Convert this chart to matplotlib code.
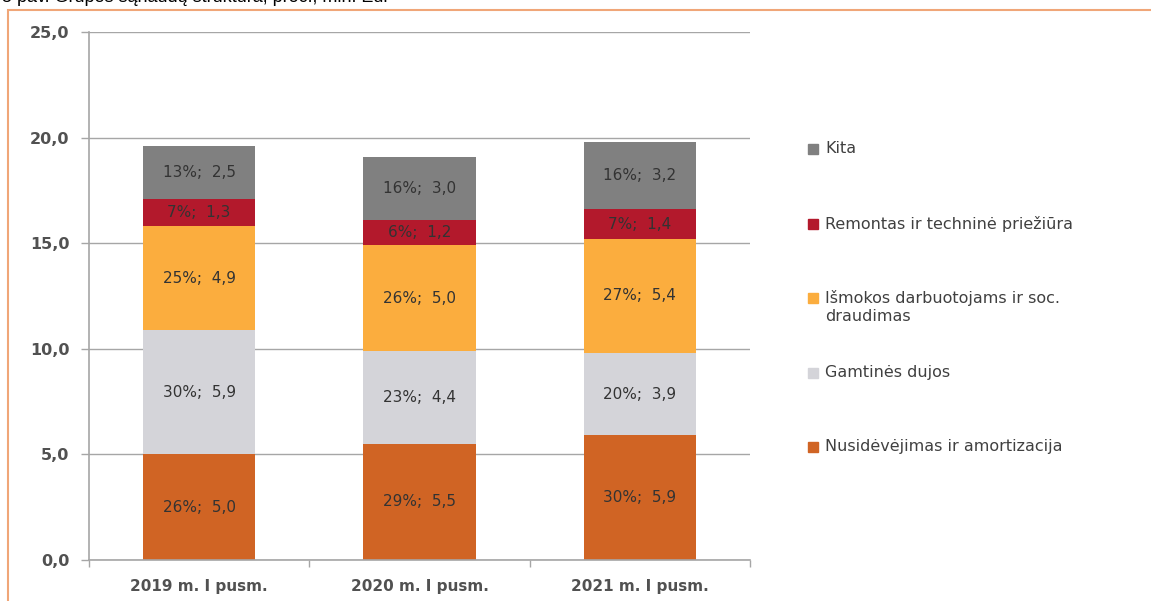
import matplotlib
matplotlib.use('Agg')
import matplotlib.pyplot as plt
import numpy as np
from matplotlib.patches import Rectangle
from matplotlib.ticker import FuncFormatter, FixedLocator

# Data (mln. Eur) - bottom to top
categories = ['2019 m. I pusm.', '2020 m. I pusm.', '2021 m. I pusm.']
series_names = ['Nusidėvėjimas ir amortizacija', 'Gamtinės dujos',
                'Išmokos darbuotojams ir soc.\ndraudimas',
                'Remontas ir techninė priežiūra', 'Kita']
nusidevejimas = [5.0, 5.5, 5.9]
dujos = [5.9, 4.4, 3.9]
ismokos = [4.9, 5.0, 5.4]
remontas = [1.3, 1.2, 1.4]
kita = [2.5, 3.0, 3.2]

pct_nusidevejimas = [26, 29, 30]
pct_dujos = [30, 23, 20]
pct_ismokos = [25, 26, 27]
pct_remontas = [7, 6, 7]
pct_kita = [13, 16, 16]

colors = ['#D06424', '#D4D4D9', '#FBAD3E', '#B3192C', '#808080']
text_color = '#333333'

values = [nusidevejimas, dujos, ismokos, remontas, kita]
pcts = [pct_nusidevejimas, pct_dujos, pct_ismokos, pct_remontas, pct_kita]

fig = plt.figure(figsize=(11.51, 6.01), dpi=100)
ax = fig.add_axes([89 / 1151, 1 - 560 / 601, (750 - 89) / 1151, (560 - 32) / 601])

x = np.arange(len(categories))
bottom = np.zeros(len(categories))
for vals, pc, col in zip(values, pcts, colors):
    vals = np.array(vals)
    ax.bar(x, vals, width=0.51, bottom=bottom, color=col, zorder=2)
    for xi, v, p, b in zip(x, vals, pc, bottom):
        lbl = f'{p}%;  ' + f'{v:.1f}'.replace('.', ',')
        ax.text(xi, b + v / 2, lbl, ha='center', va='center',
                fontsize=11, color=text_color, zorder=3)
    bottom += vals

ax.set_xlim(-0.5, 2.5)
ax.set_ylim(0, 25)
ax.yaxis.set_major_locator(FixedLocator([0, 5, 10, 15, 20, 25]))
ax.yaxis.set_major_formatter(FuncFormatter(lambda v, _: f'{v:.1f}'.replace('.', ',')))
ax.grid(axis='y', color='#A6A6A6', linewidth=1, zorder=0)

ax.set_xticks(x)
ax.set_xticklabels(categories)
ax.set_xticks([-0.5, 0.5, 1.5, 2.5], minor=True)
ax.tick_params(axis='x', which='major', length=0, pad=14, labelsize=11, labelcolor=text_color)
ax.tick_params(axis='x', which='minor', length=5, color='#A6A6A6', width=1)
ax.tick_params(axis='y', length=6, color='#A6A6A6', width=1, pad=8,
               labelsize=11.5, labelcolor=text_color)
for s in ['top', 'right']:
    ax.spines[s].set_visible(False)
for s in ['left', 'bottom']:
    ax.spines[s].set_color('#A6A6A6')
    ax.spines[s].set_linewidth(1.2)
for lbl in ax.get_yticklabels() + ax.get_xticklabels():
    lbl.set_fontweight('bold')
    lbl.set_alpha(0.85)

# Legend drawn on the right, top item first
leg_top = 1 - 149 / 601
leg_step = 74.5 / 601
for i, (name, col) in enumerate(zip(series_names[::-1], colors[::-1])):
    yy = leg_top - i * leg_step
    fig.add_artist(Rectangle((808 / 1151, yy - 5 / 601), 10 / 1151, 10 / 601,
                             transform=fig.transFigure, color=col))
    fig.text(825 / 1151, yy + 8 / 601, name, ha='left', va='top',
             fontsize=11.5, color='#404040', linespacing=1.25)

# Orange frame around chart and clipped caption above
fig.add_artist(Rectangle((8 / 1151, -0.2), 1.2, 1 - 10 / 601 + 0.2,
                         transform=fig.transFigure, fill=False,
                         edgecolor='#F0A678', linewidth=1.5))
fig.text(2 / 1151, 1 - 2 / 601, '5 pav. Grupės sąnaudų struktūra, proc., mln. Eur',
         ha='left', va='baseline', fontsize=13, color='#000000',
         family='Liberation Sans')

fig.savefig('out.png', dpi=100)
